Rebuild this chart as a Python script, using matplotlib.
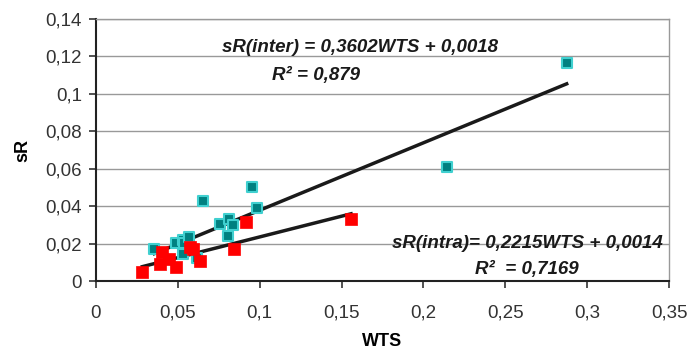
import matplotlib.pyplot as plt
from matplotlib.ticker import FuncFormatter

plt.rcParams['font.family'] = ['Liberation Sans', 'DejaVu Sans']

# inter-laboratory points (teal)
inter_wts = [0.0356, 0.0487, 0.0534, 0.0538, 0.0570, 0.0534, 0.0615, 0.0652,
             0.0757, 0.0815, 0.0835, 0.0808, 0.0953, 0.0986, 0.2144, 0.2875]
inter_sr = [0.0169, 0.0201, 0.0219, 0.0201, 0.0237, 0.0144, 0.0121, 0.0429,
            0.0305, 0.0333, 0.0301, 0.0239, 0.0501, 0.0389, 0.0611, 0.1165]

# intra-laboratory points (red)
intra_wts = [0.0283, 0.0391, 0.0401, 0.0446, 0.0491, 0.0574, 0.0594, 0.0635,
             0.0845, 0.0916, 0.1558]
intra_sr = [0.0050, 0.0089, 0.0157, 0.0116, 0.0073, 0.0183, 0.0169, 0.0107,
            0.0169, 0.0317, 0.0333]

# regression coefficients (slope, intercept)
inter_fit = (0.3602, 0.0018)
intra_fit = (0.2215, 0.0014)

fig = plt.figure(figsize=(6.92, 3.53), dpi=100)
ax = fig.add_axes([96/692, 1 - 281/353, (669-96)/692, (281-19)/353])

ax.set_xlim(0, 0.35)
ax.set_ylim(0, 0.14)
ax.set_xticks([0, 0.05, 0.1, 0.15, 0.2, 0.25, 0.3, 0.35])
ax.set_yticks([0, 0.02, 0.04, 0.06, 0.08, 0.1, 0.12, 0.14])

def comma(v, pos):
    s = ('%.2f' % v).rstrip('0').rstrip('.')
    return s.replace('.', ',')

ax.xaxis.set_major_formatter(FuncFormatter(comma))
ax.yaxis.set_major_formatter(FuncFormatter(comma))
ax.tick_params(labelsize=13.5, colors='#333333', length=5, width=1.2, direction='out')
ax.tick_params(axis='x', pad=12)
ax.tick_params(axis='y', pad=5)

ax.grid(axis='y', color='#999999', linewidth=1, linestyle='-')
ax.set_axisbelow(True)
for s in ['top', 'right']:
    ax.spines[s].set_color('#999999')
    ax.spines[s].set_linewidth(1)
for s in ['left', 'bottom']:
    ax.spines[s].set_color('#222222')
    ax.spines[s].set_linewidth(1.5)

# trend lines
for xs, (a, b) in [(inter_wts, inter_fit), (intra_wts, intra_fit)]:
    x0, x1 = min(xs), max(xs)
    ax.plot([x0, x1], [a * x0 + b, a * x1 + b], color='#1a1a1a', lw=2.5, zorder=3)

ax.scatter(inter_wts, inter_sr, marker='s', s=50, color='#008080',
           edgecolors='#40d0d0', linewidths=1.5, zorder=4)
ax.scatter(intra_wts, intra_sr, marker='s', s=65, color='#ff0000',
           edgecolors='#ff0000', linewidths=0.5, zorder=4)

tstyle = dict(fontsize=13.5, fontweight='bold', fontstyle='italic', color='#1a1a1a')
ax.text(0.1613, 0.1250, 'sR(inter) = 0,3602WTS + 0,0018', ha='center', va='center', **tstyle)
ax.text(0.1344, 0.1100, 'R² = 0,879', ha='center', va='center', **tstyle)
ax.text(0.3464, 0.0198, 'sR(intra)= 0,2215WTS + 0,0014', ha='right', va='center', **tstyle)
ax.text(0.2633, 0.0059, 'R²  = 0,7169', ha='center', va='center', **tstyle)

ax.set_xlabel('WTS', fontsize=13, fontweight='bold', labelpad=8)
ax.set_ylabel('sR', fontsize=13, fontweight='bold', labelpad=10)

fig.savefig('out.png', dpi=100)
